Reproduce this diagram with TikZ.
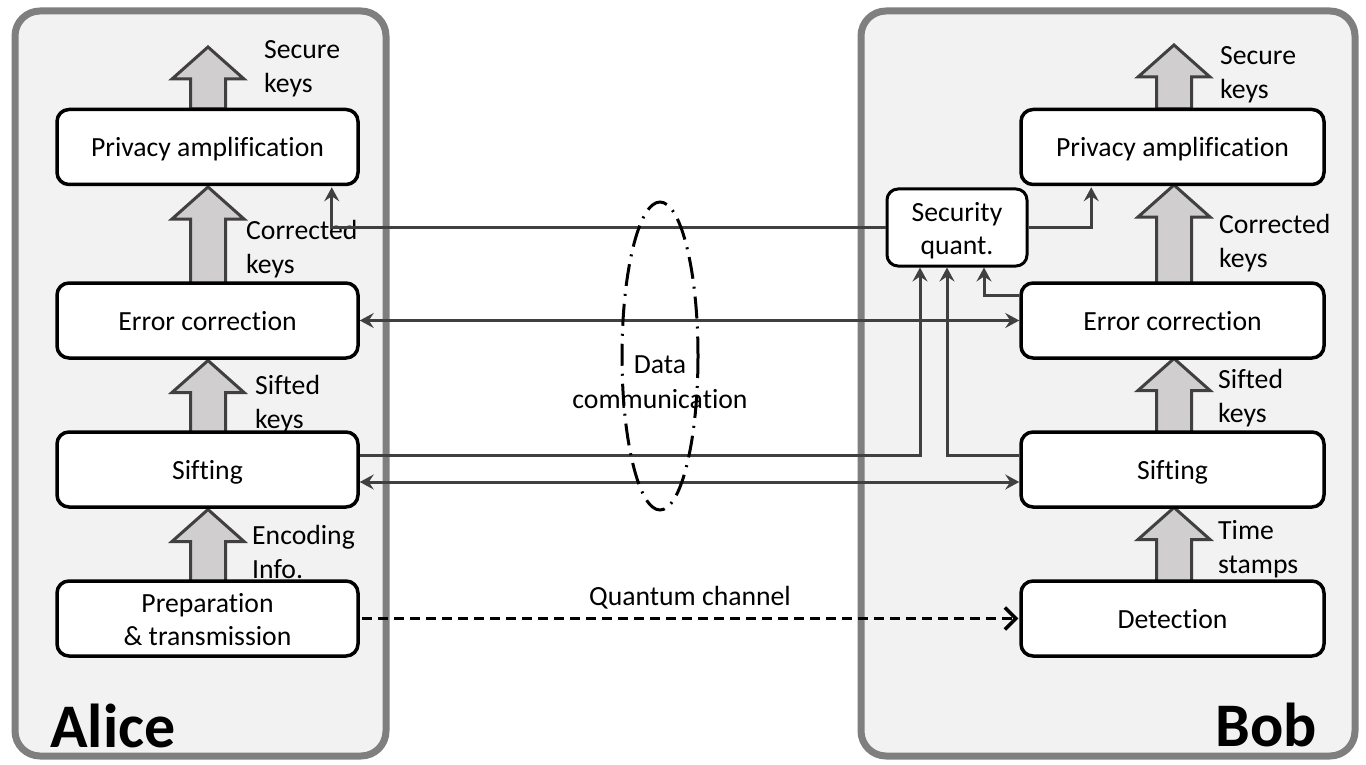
\documentclass[tikz,border=0pt]{standalone}
\usepackage{fontspec}
\setmainfont{Carlito}[Ligatures=NoCommon]
\usetikzlibrary{arrows.meta,calc}
\definecolor{panelfill}{HTML}{F2F2F2}
\definecolor{panelline}{HTML}{7F7F7F}
\definecolor{blkfill}{HTML}{D0CECE}
\definecolor{darkline}{HTML}{404040}
\tikzset{
  panel/.style={draw=panelline, fill=panelfill, line width=7pt, rounded corners=25pt},
  boxbase/.style={draw=black, fill=white, line width=3.5pt, rounded corners=12pt,
    minimum width=301pt, minimum height=75pt, inner sep=2pt,
    font=\fontsize{27.7}{33}\selectfont},
  stepbox/.style={boxbase, text height=25pt, text depth=5pt},
  twobox/.style={boxbase, text height=23pt, text depth=35pt},
  lbl/.style={anchor=west, align=left, inner sep=0pt, font=\fontsize{27.7}{34}\selectfont},
  blk/.style={draw=darkline, fill=blkfill, line width=3pt, line join=miter},
  conn/.style={draw=darkline, line width=3pt, -{Stealth[length=14pt,width=15pt,inset=5pt]}},
  dconn/.style={draw=darkline, line width=3pt, {Stealth[length=14pt,width=15pt,inset=5pt]}-{Stealth[length=14pt,width=15pt,inset=5pt]}},
  qconn/.style={draw=black, line width=3.5pt, dash pattern=on 10pt off 6pt, -{Straight Barb[length=11pt,width=22pt,line width=3.5pt]}},
  big/.style={font=\fontsize{62}{70}\selectfont\bfseries, inner sep=0pt}
}
\newcommand\twolines[2]{\begin{tabular}[t]{@{}c@{}}#1\\#2\end{tabular}}
\newcommand\blkarrow[2]{\draw[blk] let \p1=(#1), \p2=(#2) in
  (\x1-17.5pt,\y1) -- (\x1-17.5pt,\y2-32pt) -- (\x1-36pt,\y2-32pt) -- (\x1,\y2)
  -- (\x1+36pt,\y2-32pt) -- (\x1+17.5pt,\y2-32pt) -- (\x1+17.5pt,\y1) -- cycle;}
\begin{document}
\begin{tikzpicture}[x=1pt,y=-1pt]
\useasboundingbox (0,0) rectangle (1366,765);
% panels
\draw[panel] (15,11) rectangle (386,756);
\draw[panel] (861,11) rectangle (1355,756);
\node[big, anchor=base west] (alice) at (50,747) {Alice};
\node[big, anchor=base east] (bob) at (1317,746) {Bob};
% box centres
\path (207.5,147) coordinate (aPA) (207.5,320.5) coordinate (aEC)
      (207.5,469.5) coordinate (aS) (207.5,618.5) coordinate (aP)
      (1172.5,147) coordinate (bPA) (1172.5,320.5) coordinate (bEC)
      (1172.5,469.5) coordinate (bS) (1172.5,618.5) coordinate (bD);
% block arrows
\coordinate (aTop) at (208,47);
\coordinate (bTop) at (1174,45);
\blkarrow{$(aPA)+(0.5,-38)$}{aTop}
\blkarrow{$(aEC)+(0.5,-37)$}{$(aPA)+(0.5,40)$}
\blkarrow{$(aS)+(0.5,-37)$}{$(aEC)+(0.5,40)$}
\blkarrow{$(aP)+(0.5,-37)$}{$(aS)+(0.5,40)$}
\blkarrow{$(bPA)+(1.5,-38)$}{bTop}
\blkarrow{$(bEC)+(1.5,-37)$}{$(bPA)+(1.5,38)$}
\blkarrow{$(bS)+(1.5,-37)$}{$(bEC)+(1.5,38)$}
\blkarrow{$(bD)+(1.5,-37)$}{$(bS)+(1.5,38)$}
% boxes drawn on top of arrow bases
\node[stepbox] (aPAn) at (aPA) {Privacy amplification};
\node[stepbox] (aECn) at (aEC) {Error correction};
\node[stepbox] (aSn) at (aS) {Sifting};
\node[twobox] (aPn) at (aP) {\twolines{Preparation}{\& transmission}};
\node[stepbox, minimum width=303pt] (bPAn) at (bPA) {Privacy amplification};
\node[stepbox, minimum width=303pt] (bECn) at (bEC) {Error correction};
\node[stepbox, minimum width=303pt] (bSn) at (bS) {Sifting};
\node[stepbox, minimum width=303pt] (bDn) at (bD) {Detection};
\node[twobox, minimum width=140pt, minimum height=77pt, line width=3pt, rounded corners=11pt] (sq) at (957,227.5) {\twolines{Security}{quant.}};
% labels
\node[lbl] (l1) at (264,69) {Secure\\keys};
\node[lbl] (l2) at (246,249) {Corrected\\keys};
\node[lbl] (l3) at (255,404) {Sifted\\keys};
\node[lbl] (l4) at (252,552) {Encoding\\Info.};
\node[lbl] (l5) at (1220,75) {Secure\\keys};
\node[lbl] (l6) at (1219,243) {Corrected\\keys};
\node[lbl] (l7) at (1218,398) {Sifted\\keys};
\node[lbl] (l8) at (1218,549) {Time\\stamps};
% connectors
\draw[conn] (sq.west) -| ([xshift=-28pt,yshift=-1pt]aPAn.south east);
\draw[conn] (sq.east) -| ([xshift=72pt,yshift=-1pt]bPAn.south west);
\draw[dconn] (aECn.east) -- (bECn.west);
\draw[conn] ([yshift=14.5pt]aSn.east) -| ([xshift=-37pt]sq.south);
\draw[dconn] ([yshift=-12.5pt]aSn.east) -- ([yshift=-12.5pt]bSn.west);
\draw[conn] ([yshift=14.5pt]bSn.west) -| ([xshift=-10pt]sq.south);
\draw[conn] ([yshift=25.5pt]bECn.west) -| ([xshift=27pt]sq.south);
\draw[qconn] ([xshift=2pt]aPn.east) -- ([xshift=-1pt]bDn.west)
  node[midway, above=8pt, lbl, anchor=south] (qc) {Quantum channel};
% data communication ellipse
\draw[black, line width=3pt, dash pattern=on 22pt off 8pt on 2pt off 8pt] (660,356) ellipse [x radius=38, y radius=154];
\node[lbl, anchor=center, align=center, font=\fontsize{27.7}{35}\selectfont] (dc) at (660,382) {Data\\communication};
\end{tikzpicture}
\end{document}
